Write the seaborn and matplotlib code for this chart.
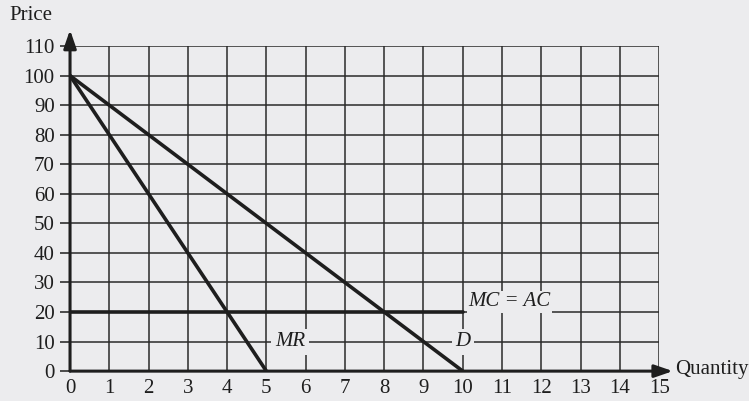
import matplotlib
matplotlib.use("Agg")
import matplotlib.pyplot as plt
import seaborn as sns
import pandas as pd

# demand, marginal revenue and cost curves
demand_q = [0, 10]
demand_p = [100, 0]
mr_q = [0, 5]
mr_p = [100, 0]
mc_q = [0, 10]
mc_p = [20, 20]

x_ticks = list(range(0, 16))
y_ticks = list(range(0, 111, 10))

bg = "#ececee"
ink = "#1e1e1e"
fs = 15

sns.set_style("white")
plt.rcParams["font.family"] = ["Liberation Serif", "DejaVu Serif"]

fig = plt.figure(figsize=(7.49, 4.01), dpi=100, facecolor=bg)
ax = fig.add_axes([0.0935, 0.0745, 0.7865, 0.8105])
ax.set_facecolor(bg)

curves = pd.concat([
    pd.DataFrame({"q": demand_q, "p": demand_p, "curve": "D"}),
    pd.DataFrame({"q": mr_q, "p": mr_p, "curve": "MR"}),
    pd.DataFrame({"q": mc_q, "p": mc_p, "curve": "MC"}),
])
sns.lineplot(data=curves, x="q", y="p", units="curve", estimator=None,
             color=ink, linewidth=2.6, ax=ax, zorder=4, legend=False)

ax.set_xlim(0, 15)
ax.set_ylim(0, 110)
ax.set_xticks(x_ticks)
ax.set_yticks(y_ticks)
ax.grid(True, color="#2a2a2a", linewidth=1.1)
ax.set_axisbelow(True)
for side in ["top", "right", "left", "bottom"]:
    ax.spines[side].set_visible(False)

ax.tick_params(axis="x", length=0, pad=6, labelsize=fs, colors=ink)
ax.tick_params(axis="y", length=7, width=1.1, pad=4, labelsize=fs,
               colors=ink, left=True)
ax.set_xlabel("")
ax.set_ylabel("")

# axes with arrows
arrow = "-|>,head_length=1.1,head_width=0.38"
ax.annotate("", xy=(0, 115.5), xytext=(0, 0), annotation_clip=False,
            arrowprops=dict(arrowstyle=arrow, color=ink, lw=2.2,
                            shrinkA=0, shrinkB=0))
ax.annotate("", xy=(15.35, 0), xytext=(0, 0), annotation_clip=False,
            arrowprops=dict(arrowstyle=arrow, color=ink, lw=2.2,
                            shrinkA=0, shrinkB=0))

ax.text(-1.55, 120.5, "Price", fontsize=fs, color=ink, ha="left",
        va="center", clip_on=False)
ax.text(15.42, 0.5, "Quantity", fontsize=fs, color=ink, ha="left",
        va="center", clip_on=False)

box = dict(facecolor=bg, edgecolor="none", pad=2.5)
ax.text(5.6, 10, "MR", fontsize=fs, style="italic", color=ink,
        ha="center", va="center", bbox=box, zorder=5)
ax.text(10.0, 10, "D", fontsize=fs, style="italic", color=ink,
        ha="center", va="center", bbox=box, zorder=5)
ax.text(10.15, 23.5, "MC = AC", fontsize=fs, style="italic", color=ink,
        ha="left", va="center", bbox=dict(facecolor=bg, edgecolor="none", pad=1.0),
        zorder=5)

fig.savefig("out.png", dpi=100, facecolor=bg)
